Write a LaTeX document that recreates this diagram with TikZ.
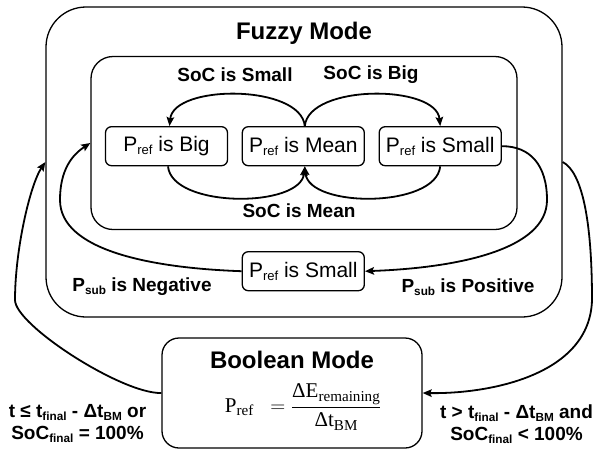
\documentclass[tikz,border=0pt]{standalone}
\usepackage{fontspec}
\usepackage{amsmath}
\usepackage{graphicx}
\newfontfamily\arial{Liberation Sans}
\newfontfamily\serifx{Liberation Serif}
\usetikzlibrary{arrows.meta}
\newcommand{\sbs}[1]{\raisebox{-0.3ex}{\scalebox{0.62}{#1}}}
\newcommand{\sbsf}[1]{\raisebox{-0.35ex}{\scalebox{0.72}{#1}}}
\begin{document}
\begin{tikzpicture}[x=1pt,y=1pt,
  frame/.style={draw, line width=1.3pt, rounded corners=#1, inner sep=0pt},
  pbox/.style={draw, line width=1.3pt, rounded corners=6pt, inner sep=0pt,
    minimum width=122pt, minimum height=39pt,
    font={\arial\fontsize{21}{25}\selectfont}},
  lbl/.style={inner sep=0pt, align=center, font={\arial\bfseries\fontsize{19}{22}\selectfont}},
  ttl/.style={inner sep=0pt, font={\arial\bfseries\fontsize{24}{28}\selectfont}},
  conn/.style={line width=1.8pt, -{Stealth[length=9pt,width=7.5pt,inset=1.5pt]}}]
\useasboundingbox (0,0) rectangle (597,-451);
% frames
\node[frame=40pt, minimum width=516pt, minimum height=310pt] (outer) at (304,-162) {};
\node[frame=22pt, minimum width=426pt, minimum height=173pt] (inner) at (304,-143) {};
\node[frame=17pt, minimum width=260pt, minimum height=110pt] (bool) at (292,-393) {};
% titles
\node[ttl] (fuzzyt) at (304,-33) {Fuzzy Mode};
\node[ttl] (boolt) at (292,-360) {Boolean Mode};
\node[inner sep=0pt, font={\serifx\fontsize{21}{25}\selectfont}] (formula) at (303,-407)
  {P\sbsf{ref}\;\; $=\dfrac{\text{ΔE\sbsf{remaining}}}{\text{Δt\sbsf{BM}}}$};
% P boxes
\node[pbox] (big) at (166.5,-146.2) {P\sbs{ref} is Big};
\node[pbox] (mean) at (303.3,-146.2) {P\sbs{ref} is Mean};
\node[pbox] (small) at (440.2,-146.2) {P\sbs{ref} is Small};
\node[pbox] (lower) at (303.3,-271.2) {P\sbs{ref} is Small};
% labels
\node[lbl] (socsmall) at (235,-75) {SoC is Small};
\node[lbl] (socbig) at (371,-75) {SoC is Big};
\node[lbl] (socmean) at (299,-211) {SoC is Mean};
\node[lbl] (neg) at (142,-287) {P\sbs{sub} is Negative};
\node[lbl] (pos) at (468,-287) {P\sbs{sub} is Positive};
\node[lbl] (condl) at (77.5,-424) {t ≤ t\sbs{final} - Δt\sbs{BM} or\\SoC\sbs{final} = 100\%};
\node[lbl] (condr) at (516.5,-424) {t > t\sbs{final} - Δt\sbs{BM} and\\SoC\sbs{final} < 100\%};
% inner arcs
\draw[conn] ([xshift=1.5pt]mean.north) .. controls +(-4,42) and +(4,42) .. ([xshift=3pt]big.north);
\draw[conn] ([xshift=1.5pt]mean.north) .. controls +(4,42) and +(-4,42) .. (small.north);
\draw[conn] ([xshift=1.5pt]big.south) .. controls +(4,-42) and +(-4,-42) .. ([xshift=1.5pt]mean.south);
\draw[conn] (small.south) .. controls +(-4,-42) and +(4,-42) .. ([xshift=1.5pt]mean.south);
% inner loops
\draw[conn] (lower.west) .. controls (150,-268) and (60,-250) .. (60,-200)
  .. controls (60,-170) and (72,-155) .. (inner.west);
\draw[conn] (small.east) .. controls (530,-146) and (547,-165) .. (547,-200)
  .. controls (547,-250) and (456,-268) .. (lower.east);
% outer loops
\draw[conn] (bool.west) .. controls (122,-394) and (15,-325) .. (15,-300)
  .. controls (15,-250) and (30,-185) .. (outer.west);
\draw[conn] (outer.east) .. controls (582,-172) and (592,-220) .. (592,-300)
  .. controls (590,-375) and (490,-394) .. (bool.east);
\end{tikzpicture}
\end{document}
